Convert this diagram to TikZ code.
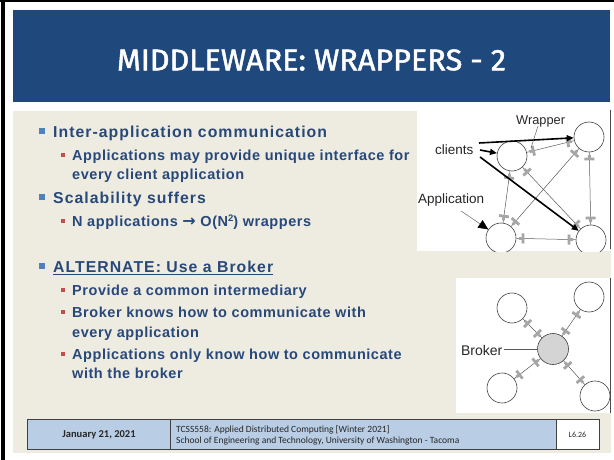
\documentclass[tikz,border=0pt]{standalone}
\usepackage{fontspec}
\setmainfont{Liberation Sans}
\newfontfamily\titlefont[FakeBold=1.6]{Fira Sans}
\newfontfamily\headfont[LetterSpace=6.5]{Liberation Sans}
\newfontfamily\itemfont[LetterSpace=3.8]{Liberation Sans}
\newfontfamily\arrowfont{DejaVu Sans}
\newfontfamily\footfont{Carlito}
\usetikzlibrary{calc, arrows.meta}

\definecolor{hdrblue}{RGB}{31,73,125}
\definecolor{paper}{RGB}{238,236,225}
\definecolor{txtblue}{RGB}{40,72,122}
\definecolor{dotblue}{RGB}{79,129,189}
\definecolor{dotred}{RGB}{192,80,77}
\definecolor{footblue}{RGB}{185,205,229}
\definecolor{plugray}{RGB}{166,166,166}

\tikzset{
  every node/.style={inner sep=0pt},
  title/.style={text=white, font=\titlefont\fontsize{30}{30}\selectfont},
  headtext/.style={anchor=base west, text=txtblue, font=\headfont\bfseries\fontsize{15.8}{19}\selectfont},
  itemtext/.style={anchor=base west, text=txtblue, font=\itemfont\bfseries\fontsize{14.5}{19}\selectfont},
  app/.style={circle, draw=black!75, line width=0.6pt, fill=white, minimum size=30pt},
  broker/.style={app, fill=black!17, minimum size=31pt},
  link/.style={draw=black!65, line width=0.5pt},
  plug/.style={draw=plugray, line width=2.8pt},
  push/.style={draw=black, line width=1.6pt, -{Triangle[length=7pt,width=6pt]}},
  pointer/.style={draw=black!60, line width=0.5pt},
  figlabel/.style={text=black!85, font=\fontsize{13.5}{14}\selectfont},
  footcell/.style={draw=black!75, line width=1pt},
  foottext/.style={text=black!85, font=\footfont\fontsize{9.5}{11}\selectfont},
}

\newcommand\topbullet[1]{\fill[dotblue] ($(#1.base west)+(-13.7,-9.2)$) rectangle ++(5.7,5.7);}
\newcommand\subbullet[1]{\fill[dotred] ($(#1.base west)+(-11.3,-7.3)$) rectangle ++(4,4);}
% wrapper plug near #1 on the line towards #2
\newcommand\plug[2]{%
  \draw[plug] ($(#1)!18pt!(#2)$) -- ($(#1)!22pt!(#2)$);
  \draw[plug] ($($(#1)!22pt!(#2)$)!5pt!90:(#2)$) -- ($($(#1)!22pt!(#2)$)!5pt!-90:(#2)$);}

\begin{document}
\begin{tikzpicture}[x=1pt, y=-1pt]
\useasboundingbox (0,0) rectangle (614,460);
\fill[white] (0,0) rectangle (614,460);
\fill[black] (1,0) rectangle (4.5,460);
\fill[black] (0,0) rectangle (614,1.6);

% header
\fill[hdrblue] (13,10) rectangle (610,102);
\node[title] (ttl) at (311.5,60) {\resizebox{389pt}{21pt}{MIDDLEWARE: WRAPPERS - 2}};

% body
\fill[paper] (13,111) rectangle (611,453);

\node[headtext] (h1) at (53,137.3) {Inter-application communication};
\node[itemtext] (s1) at (72,160.7) {Applications may provide unique interface for};
\node[itemtext] (s1b) at (72,179.5) {every client application};
\node[headtext] (h2) at (53,203.3) {Scalability suffers};
\node[itemtext] (s2) at (72,226.7) {N applications {\arrowfont\bfseries\fontsize{16}{16}\selectfont →} O(N\raisebox{5.5pt}{\fontsize{9.5}{10}\selectfont 2}) wrappers};
\node[headtext] (h3) at (53,272.5) {ALTERNATE: Use a Broker};
\node[itemtext] (s3) at (72,295.3) {Provide a common intermediary};
\node[itemtext] (s4) at (72,317.7) {Broker knows how to communicate with};
\node[itemtext] (s4b) at (72,337) {every application};
\node[itemtext] (s5) at (72,359.3) {Applications only know how to communicate};
\node[itemtext] (s5b) at (72,378.3) {with the broker};
\draw[txtblue, line width=1.3pt] ($(h3.base west)+(0,2)$) -- ($(h3.base east)+(0,2)$);

\topbullet{h1} \topbullet{h2} \topbullet{h3}
\subbullet{s1} \subbullet{s2} \subbullet{s3} \subbullet{s4} \subbullet{s5}

% wrappers between every pair
\begin{scope}
\clip (417,108) rectangle (610,251);
\fill[white] (417,108) rectangle (610,251);
\node[app] (c1) at (512,156) {};
\node[app] (c2) at (589,137) {};
\node[app] (c3) at (501,238) {};
\node[app] (c4) at (591,240) {};
\foreach \a/\b in {c1/c2, c1/c3, c1/c4, c2/c3, c2/c4, c3/c4} {
  \draw[link] (\a) -- (\b);
  \plug{\a}{\b} \plug{\b}{\a}
}
\node[figlabel, anchor=base west] (cl) at (435,154.5) {clients};
\node[figlabel, anchor=base west] (ap) at (418,204) {Application};
\node[figlabel, anchor=base west, font=\fontsize{12.8}{13}\selectfont] (wr) at (516,124.5) {Wrapper};
\coordinate (k1) at (479,143);
\coordinate (k2) at (480,150);
\coordinate (k3) at (480,157);
\draw[push] (k1) -- (c2);
\draw[push] (k2) -- (c1);
\draw[push] (k3) -- (c4);
\coordinate (k4) at (461,211);
\draw[pointer, -{Triangle[length=10pt,width=9pt,color=black]}] (k4) -- (c3);
\coordinate (k5) at (538,126);
\coordinate (k6) at (531,148);
\draw[pointer] (k5) -- (k6);
\end{scope}
\draw[black!70, line width=0.8pt] (610,110) -- (610,249);

% broker
\begin{scope}
\clip (456,278) rectangle (610,413);
\fill[white] (456,278) rectangle (610,413);
\node[broker] (bk) at (553,349) {};
\node[app] (o1) at (512,308) {};
\node[app] (o2) at (589,297) {};
\node[app] (o3) at (502,388) {};
\node[app] (o4) at (595,396) {};
\foreach \o in {o1, o2, o3, o4} {
  \draw[link] (bk) -- (\o);
  \plug{bk}{\o} \plug{\o}{bk}
}
\node[figlabel, anchor=east, font=\fontsize{14}{14}\selectfont, inner sep=1.5pt] (bl) at (504,350) {Broker};
\draw[link] (bl.east |- bk) -- (bk);
\end{scope}
\draw[black!70, line width=0.8pt] (610,278) -- (610,413);

% footer
\draw[footcell, fill=footblue] (27,419.5) rectangle (556,449);
\draw[footcell] (170,419.5) -- (170,449);
\draw[footcell, fill=white] (556,419.5) rectangle (599,449);
\node[foottext, font=\footfont\bfseries\fontsize{10.5}{11}\selectfont] (dt) at (99,434.5) {January 21, 2021};
\node[foottext, anchor=base west] (cr1) at (176,432) {TCSS558: Applied Distributed Computing [Winter 2021]};
\node[foottext, anchor=base west] (cr2) at (176,443) {School of Engineering and Technology, University of Washington - Tacoma};
\node[foottext, font=\footfont\fontsize{8}{9}\selectfont] (pg) at (577.5,434.5) {L6.26};
\end{tikzpicture}
\end{document}
